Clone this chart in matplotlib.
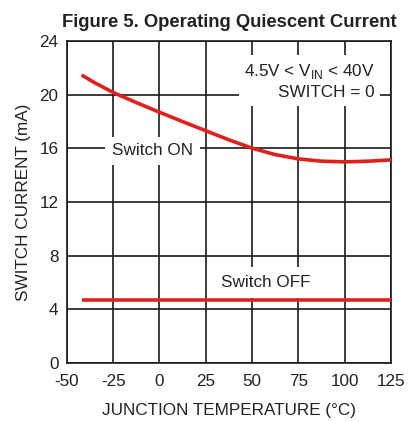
import matplotlib
matplotlib.use("Agg")
import matplotlib.pyplot as plt

plt.rcParams['font.family'] = ['Liberation Sans', 'DejaVu Sans']
plt.rcParams['mathtext.fontset'] = 'custom'
plt.rcParams['mathtext.rm'] = 'Liberation Sans'
plt.rcParams['axes.unicode_minus'] = False

# Switch ON curve (junction temperature in °C, current in mA)
temp_on = [-42, -35, -25, -12.5, 0, 12.5, 25, 37.5, 50, 62.5, 75, 87.5, 100, 112.5, 125]
current_on = [21.45, 20.88, 20.15, 19.4, 18.68, 17.98, 17.3, 16.62, 16.0, 15.52, 15.2, 15.03, 14.98, 15.03, 15.13]

# Switch OFF line
temp_off = [-42, 125]
current_off = [4.7, 4.7]

xticks = [-50, -25, 0, 25, 50, 75, 100, 125]
yticks = [0, 4, 8, 12, 16, 20, 24]

red = '#e0201c'
ink = '#222222'

fig = plt.figure(figsize=(4.10, 4.21), dpi=100)
ax = fig.add_axes([0.163, 0.138, 0.791, 0.765])

ax.plot(temp_on, current_on, color=red, lw=2.6, zorder=3, solid_capstyle='butt')
ax.plot(temp_off, current_off, color=red, lw=2.6, zorder=3, solid_capstyle='butt')

ax.set_xlim(-50, 125)
ax.set_ylim(0, 24)
ax.set_xticks(xticks)
ax.set_yticks(yticks)
ax.tick_params(axis='y', length=0, labelsize=12.3, pad=6, colors=ink)
ax.tick_params(axis='x', length=0, labelsize=12.3, pad=8, colors=ink)
ax.grid(True, color='#1a1a1a', lw=1.2)
ax.set_axisbelow(True)
for s in ax.spines.values():
    s.set_color('#1a1a1a')
    s.set_linewidth(1.2)

ax.set_xlabel('JUNCTION TEMPERATURE (°C)', fontsize=12.3, labelpad=10, color=ink)
ax.set_ylabel('SWITCH CURRENT (mA)', fontsize=12.3, labelpad=6, color=ink)
ax.set_title('Figure 5. Operating Quiescent Current', fontsize=13.3, fontweight='bold',
             pad=10, color=ink)

ax.text(116.3, 21.0, '4.5V < V$_{\\mathregular{IN}}$ < 40V\nSWITCH = 0',
        ha='right', va='center', multialignment='right', linespacing=1.4,
        fontsize=12.3, color=ink, zorder=2,
        bbox=dict(facecolor='white', edgecolor='none', boxstyle='square,pad=0.3'))
ax.text(-3.6, 15.8, 'Switch ON', ha='center', va='center', fontsize=12.3, color=ink,
        zorder=2, bbox=dict(facecolor='white', edgecolor='none', boxstyle='square,pad=0.4'))
ax.text(57.5, 6.0, 'Switch OFF', ha='center', va='center', fontsize=12.3, color=ink,
        zorder=2, bbox=dict(facecolor='white', edgecolor='none', boxstyle='square,pad=0.45'))

fig.savefig('out.png', dpi=100)
